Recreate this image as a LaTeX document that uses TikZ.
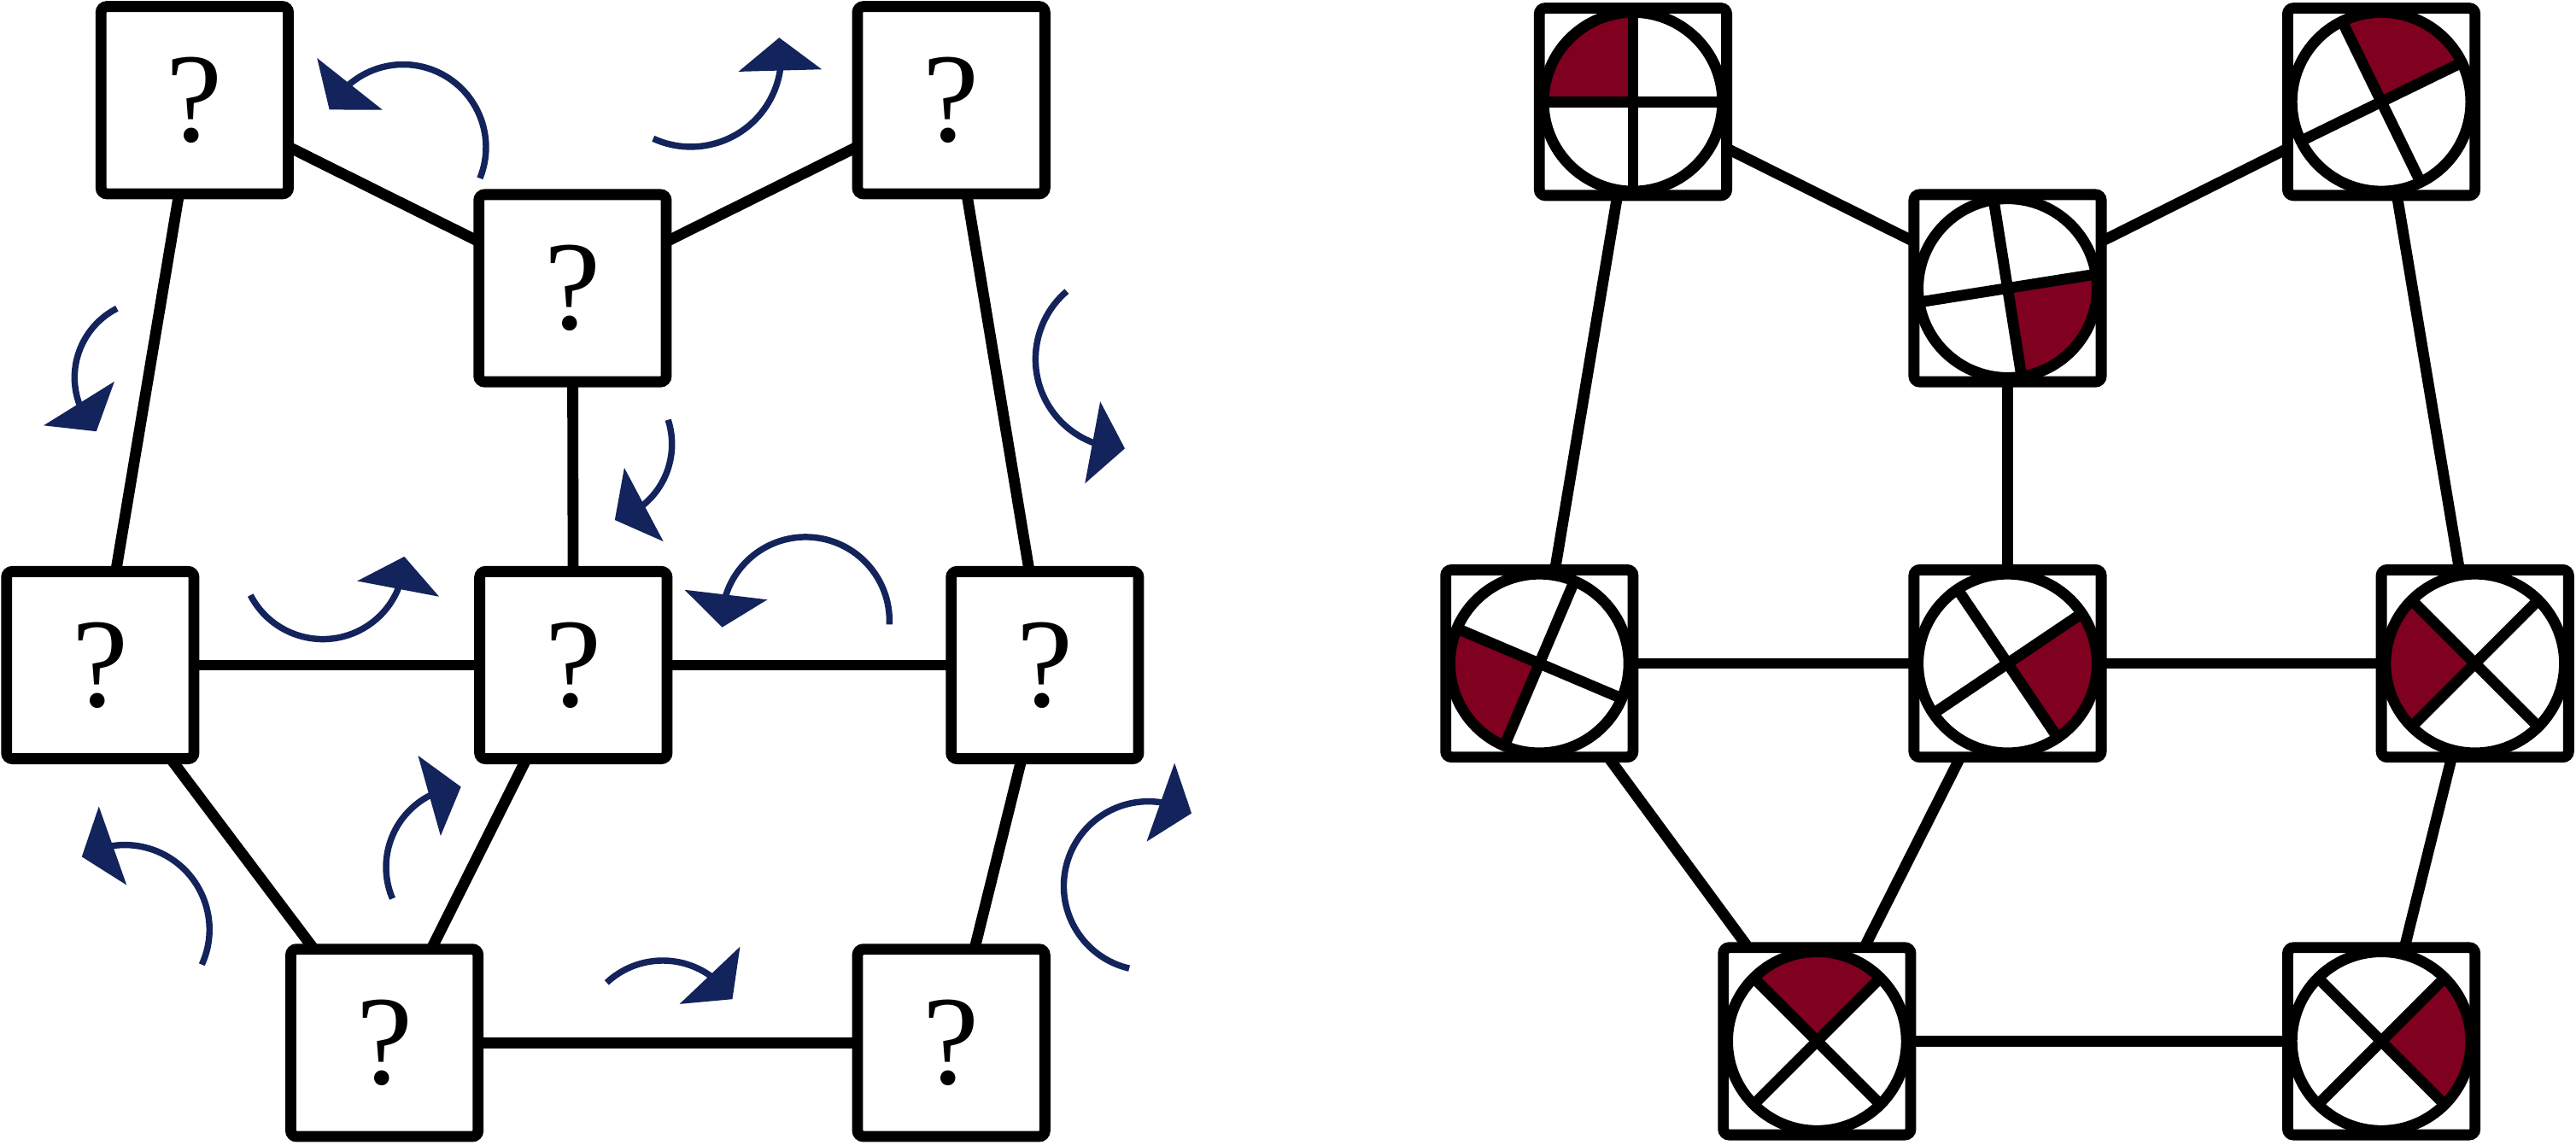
\documentclass[tikz,border=0pt]{standalone}
\usepackage{fontspec}
\usepackage{tikz}
\usetikzlibrary{arrows.meta,bending}
\newfontfamily\qfont{Liberation Serif}
\definecolor{rotblue}{RGB}{19,35,91}
\definecolor{markred}{RGB}{128,0,32}

\begin{document}
\begin{tikzpicture}[
      cell/.style={draw, line width=1.9pt, rounded corners=1pt, fill=white,
        minimum size=1.14cm, inner sep=0pt, outer sep=0pt,
        font=\qfont\fontsize{22}{26}\selectfont},
      link/.style={line width=1.9pt},
      rot/.style={rotblue, line width=1.1pt, -{Triangle[length=2mm, width=5mm]}},
      pics/quad/.style 2 args={code={
        \fill[markred] (0,0) -- (#2:0.545) arc[start angle=#2, delta angle=90, radius=0.545] -- cycle;
        \draw[link] (0,0) circle[radius=0.545];
        \draw[link] (#1:0.545) -- (#1+180:0.545);
        \draw[link] (#1+90:0.545) -- (#1-90:0.545);
      }}
    ]
    \useasboundingbox (0,0) rectangle (15.68,6.97);

    \node[cell] (u1) at (1.185,6.36) {?};
    \node[cell] (u2) at (3.485,5.215) {?};
    \node[cell] (u3) at (5.79,6.36) {?};
    \node[cell] (u4) at (0.61,2.92) {?};
    \node[cell] (u5) at (3.49,2.92) {?};
    \node[cell] (u6) at (6.36,2.92) {?};
    \node[cell] (u7) at (2.34,0.62) {?};
    \node[cell] (u8) at (5.79,0.62) {?};
    \draw[link] (u1) -- (u2);
    \draw[link] (u2) -- (u3);
    \draw[link] (u1) -- (u4);
    \draw[link] (u3) -- (u6);
    \draw[link] (u2) -- (u5);
    \draw[link] (u4) -- (u5);
    \draw[link] (u5) -- (u6);
    \draw[link] (u4) -- (u7);
    \draw[link] (u5) -- (u7);
    \draw[link] (u6) -- (u8);
    \draw[link] (u7) -- (u8);
    \draw[rot] (2.454,6.073) ++(-22:0.504) arc[start angle=-22, end angle=153, radius=0.504];
    \draw[rot] (4.205,6.626) ++(-114.6:0.55) arc[start angle=-114.6, end angle=12, radius=0.55];
    \draw[rot] (0.926,4.671) ++(117:0.472) arc[start angle=117, end angle=224, radius=0.472];
    \draw[rot] (6.847,4.783) ++(130.6:0.544) arc[start angle=130.6, end angle=270, radius=0.544];
    \draw[rot] (3.61,4.265) ++(18:0.48) arc[start angle=18, end angle=-74, radius=0.48];
    \draw[rot] (1.965,3.574) ++(207.4:0.496) arc[start angle=207.4, end angle=360.8, radius=0.496];
    \draw[rot] (4.904,3.19) ++(-2.5:0.51) arc[start angle=-2.5, end angle=184.5, radius=0.51];
    \draw[rot] (0.76,1.31) ++(-24.5:0.515) arc[start angle=-24.5, end angle=120.6, radius=0.515];
    \draw[rot] (2.84,1.69) ++(203:0.49) arc[start angle=203, end angle=94, radius=0.49];
    \draw[rot] (6.99,1.575) ++(256.9:0.515) arc[start angle=256.9, end angle=59.3, radius=0.515];
    \draw[rot] (4.034,0.621) ++(133:0.5) arc[start angle=133, end angle=32, radius=0.5];

    \node[cell] (s1) at (9.94,6.35) {};
    \node[cell] (s2) at (12.22,5.215) {};
    \node[cell] (s3) at (14.495,6.35) {};
    \node[cell] (s4) at (9.37,2.93) {};
    \node[cell] (s5) at (12.22,2.93) {};
    \node[cell] (s6) at (15.065,2.93) {};
    \node[cell] (s7) at (11.06,0.63) {};
    \node[cell] (s8) at (14.495,0.63) {};
    \draw[link] (s1) -- (s2);
    \draw[link] (s2) -- (s3);
    \draw[link] (s1) -- (s4);
    \draw[link] (s3) -- (s6);
    \draw[link] (s2) -- (s5);
    \draw[link] (s4) -- (s5);
    \draw[link] (s5) -- (s6);
    \draw[link] (s4) -- (s7);
    \draw[link] (s5) -- (s7);
    \draw[link] (s6) -- (s8);
    \draw[link] (s7) -- (s8);
    \pic at (s1) {quad={0}{90}};
    \pic at (s2) {quad={9}{-81}};
    \pic at (s3) {quad={26}{26}};
    \pic at (s4) {quad={-23}{157}};
    \pic at (s5) {quad={34}{-56}};
    \pic at (s6) {quad={45}{135}};
    \pic at (s7) {quad={45}{45}};
    \pic at (s8) {quad={45}{-45}};
  \end{tikzpicture}
\end{document}
